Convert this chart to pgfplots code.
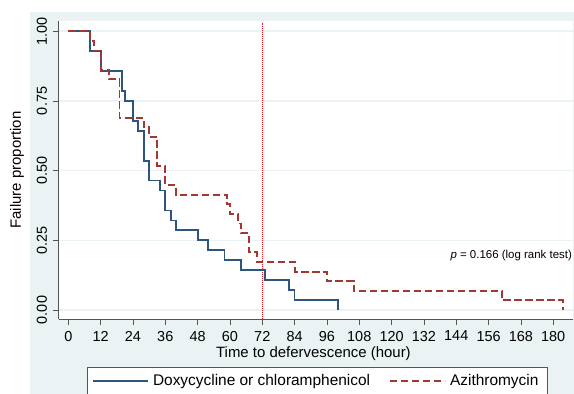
\documentclass[border=0pt]{standalone}
\usepackage{pgfplots}
\pgfplotsset{compat=1.18}
\usepackage{fontspec}
\setmainfont{Liberation Sans}
\definecolor{gbg}{RGB}{234,242,243}
\definecolor{kmblue}{RGB}{45,85,125}
\definecolor{kmred}{RGB}{165,55,50}
\definecolor{axgray}{RGB}{85,85,85}
\definecolor{vred}{RGB}{235,30,40}
\begin{document}
\begin{tikzpicture}
\useasboundingbox (0bp,0bp) rectangle (574bp,394bp);
\clip (0bp,0bp) rectangle (574bp,394bp);
\fill[gbg] (30bp,0bp) rectangle (574bp,382bp);
\begin{axis}[
  at={(58.7bp,74.7bp)}, anchor=south west,
  scale only axis, width=514.6bp, height=298.6bp,
  xmin=-3.56, xmax=187.45, ymin=-0.0334, ymax=1.038,
  axis background/.style={fill=white},
  axis x line*=bottom, axis y line*=left,
  axis line style={axgray, line width=1bp, -},
  xtick={0,12,...,180},
  ytick={0,0.25,0.5,0.75,1},
  ymajorgrids, grid style={gbg, line width=1.6bp},
  tick align=outside, major tick length=5.5bp,
  tick style={axgray, line width=0.8bp},
  /pgf/number format/assume math mode=true,
  yticklabel={\pgfmathprintnumber[fixed, fixed zerofill, precision=2]{\tick}},
  xticklabel style={font=\fontsize{14.5}{16}\selectfont, anchor=north, inner sep=0pt, yshift=-6bp},
  yticklabel style={font=\fontsize{14.5}{16}\selectfont, xshift=-6bp, rotate=90, anchor=south, inner sep=0pt},
  xlabel={Time to defervescence (hour)},
  ylabel={Failure proportion},
  xlabel style={font=\fontsize{15}{18}\selectfont, at={(axis description cs:0.495,-0.1162)}, anchor=center},
  ylabel style={font=\fontsize{15}{18}\selectfont, at={(axis description cs:-0.081,0.5)}, anchor=center},
  legend style={at={(0.0556,-0.1607)}, anchor=north west, draw=axgray, line width=0.8bp, fill=white,
    font=\fontsize{15.5}{18}\selectfont, legend columns=2, inner xsep=4bp, inner ysep=5bp,
    nodes={inner xsep=4.5bp},
    /tikz/every even column/.append style={column sep=14bp}},
  legend cell align=left,
  legend image code/.code={\draw[#1] (0bp,0bp) -- (55bp,0bp);},
]
\addplot[vred, line width=1.1bp, dash pattern=on 1bp off 1bp, forget plot] coordinates {(72,-0.0334) (72,1.031)};
\addplot[kmblue, line width=1.8bp, const plot] coordinates {
(0,1) (8,0.9286) (12,0.8571) (20,0.7857) (21,0.75) (24,0.6786) (26,0.6429)
(28,0.5357) (30,0.4643) (34,0.4286) (36,0.3571) (38,0.3214) (40,0.2857)
(48,0.25) (52,0.2143) (58,0.1786) (64,0.1429) (73,0.1071) (82,0.0714)
(84,0.0357) (100,0)};
\addlegendentry{Doxycycline or chloramphenicol}
\addplot[kmred, line width=1.9bp, const plot, dash pattern=on 7.5bp off 3.5bp] coordinates {
(0,1) (8,0.9655) (9.5,0.9310) (12,0.8621) (15,0.8276) (19,0.6897) (28,0.6552)
(30,0.6207) (33,0.5172) (36,0.4483) (40,0.4138) (59,0.3793) (60,0.3448)
(63,0.3103) (64,0.2759) (67,0.2069) (70,0.1724) (84,0.1379) (96,0.1034)
(106,0.0690) (161,0.0345) (183.5,0)};
\addlegendentry{Azithromycin}
\node[anchor=east, inner sep=0pt, font=\fontsize{11.5}{13}\selectfont] at (axis cs:187,0.194) {\textit{p} = 0.166 (log rank test)};
\end{axis}
\end{tikzpicture}
\end{document}
